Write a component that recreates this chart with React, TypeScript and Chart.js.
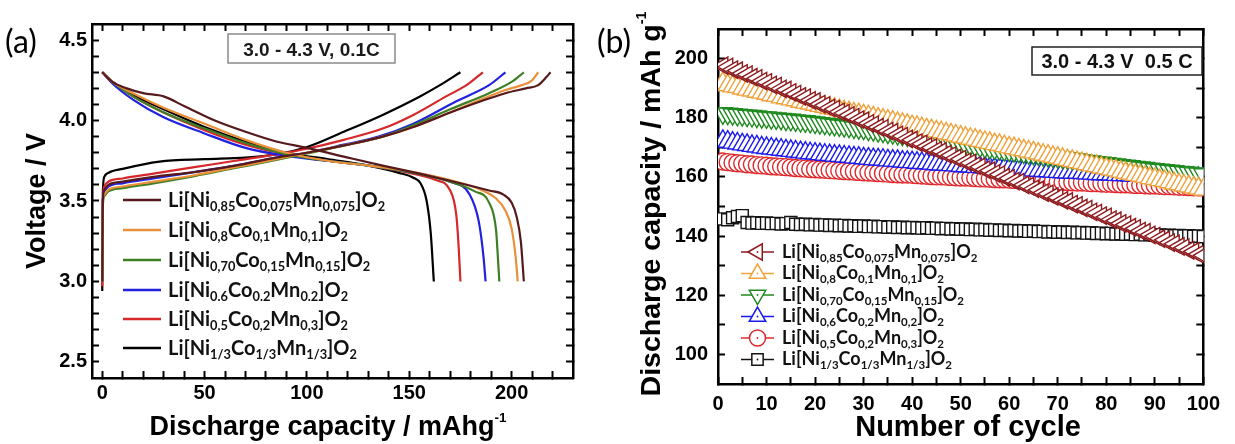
import React, { useEffect, useRef } from 'react';
import { Chart, registerables } from 'chart.js';
Chart.register(...registerables);

const BOLD = "'Liberation Sans', Arial, Helvetica, sans-serif";
const LEGF = "Lato, 'Liberation Sans', sans-serif";

// ---------------- Panel (a): voltage profiles ----------------
const labelsA = [
  'Li[Ni_{0,85}Co_{0,075}Mn_{0,075}]O_{2}',
  'Li[Ni_{0,8}Co_{0,1}Mn_{0,1}]O_{2}',
  'Li[Ni_{0,70}Co_{0,15}Mn_{0,15}]O_{2}',
  'Li[Ni_{0.6}Co_{0.2}Mn_{0.2}]O_{2}',
  'Li[Ni_{0,5}Co_{0,2}Mn_{0,3}]O_{2}',
  'Li[Ni_{1/3}Co_{1/3}Mn_{1/3}]O_{2}',
];
const colorsA = ['#561a1d', '#e8913a', '#3e7f25', '#2121e0', '#d6272b', '#000000'];
const xTicksA = [0, 50, 100, 150, 200];
const xMinorA = [10, 20, 30, 40, 60, 70, 80, 90, 110, 120, 130, 140, 160, 170, 180, 190, 210, 220];
const yTicksA = [2.5, 3.0, 3.5, 4.0, 4.5];
const yMinorA = [2.6, 2.7, 2.8, 2.9, 3.1, 3.2, 3.3, 3.4, 3.6, 3.7, 3.8, 3.9, 4.1, 4.2, 4.3, 4.4];

const ni85ChargeCap = [0, 0.3, 1, 3, 10, 25, 45, 65, 85, 100, 120, 137, 152, 170, 185, 197, 207, 213, 217, 219];
const ni85ChargeV = [3.0, 3.5, 3.57, 3.6, 3.62, 3.65, 3.68, 3.72, 3.77, 3.8, 3.85, 3.9, 3.96, 4.05, 4.12, 4.17, 4.2, 4.22, 4.27, 4.3];
const ni85DisCap = [0, 5, 12, 20, 30, 40, 55, 70, 85, 100, 120, 137, 155, 175, 189, 196, 200, 202.5, 204.5, 206];
const ni85DisV = [4.3, 4.24, 4.2, 4.17, 4.15, 4.09, 4.0, 3.93, 3.87, 3.83, 3.77, 3.72, 3.67, 3.61, 3.565, 3.54, 3.49, 3.4, 3.25, 3.0];

const ni80ChargeCap = [0, 0.3, 1, 3, 10, 25, 45, 65, 85, 100, 120, 137, 152, 170, 185, 197, 205, 210, 213];
const ni80ChargeV = [3.0, 3.48, 3.54, 3.57, 3.59, 3.62, 3.66, 3.71, 3.76, 3.8, 3.85, 3.9, 3.96, 4.05, 4.13, 4.19, 4.22, 4.25, 4.3];
const ni80DisCap = [0, 5, 15, 30, 50, 70, 90, 110, 130, 150, 170, 185, 192, 197, 200, 202, 203];
const ni80DisV = [4.3, 4.24, 4.17, 4.08, 3.98, 3.88, 3.8, 3.75, 3.72, 3.685, 3.63, 3.57, 3.52, 3.44, 3.33, 3.15, 3.0];

const ni70ChargeCap = [0, 0.3, 1, 3, 10, 25, 45, 65, 85, 100, 120, 137, 152, 170, 189, 200, 206];
const ni70ChargeV = [3.0, 3.47, 3.53, 3.56, 3.58, 3.61, 3.655, 3.705, 3.755, 3.795, 3.85, 3.9, 3.97, 4.07, 4.17, 4.24, 4.3];
const ni70DisCap = [0, 5, 15, 30, 50, 70, 90, 110, 130, 150, 170, 182, 189, 192.4, 193.3, 194];
const ni70DisV = [4.3, 4.24, 4.15, 4.05, 3.95, 3.86, 3.79, 3.75, 3.72, 3.68, 3.62, 3.56, 3.49, 3.32, 3.15, 3.0];

const ni60ChargeCap = [0, 0.3, 1, 3, 10, 25, 45, 65, 85, 100, 118, 135, 152, 173, 189, 197];
const ni60ChargeV = [3.0, 3.5, 3.56, 3.59, 3.61, 3.64, 3.68, 3.72, 3.77, 3.8, 3.85, 3.9, 3.98, 4.12, 4.22, 4.3];
const ni60DisCap = [0, 5, 15, 30, 50, 70, 90, 110, 130, 150, 170, 179.5, 184, 186.3, 187.3];
const ni60DisV = [4.3, 4.23, 4.13, 4.02, 3.92, 3.83, 3.78, 3.75, 3.72, 3.68, 3.62, 3.54, 3.37, 3.15, 3.0];

const ni50ChargeCap = [0, 0.3, 1, 3, 10, 25, 45, 65, 85, 100, 118, 137, 152, 168, 178, 186];
const ni50ChargeV = [2.97, 3.5, 3.59, 3.62, 3.64, 3.67, 3.71, 3.75, 3.79, 3.825, 3.88, 3.95, 4.035, 4.15, 4.22, 4.3];
const ni50DisCap = [0, 5, 15, 30, 50, 70, 90, 110, 130, 150, 163, 169.8, 173, 174.2, 175];
const ni50DisV = [4.3, 4.24, 4.15, 4.05, 3.94, 3.85, 3.79, 3.75, 3.72, 3.675, 3.63, 3.57, 3.41, 3.2, 3.0];

const ni33ChargeCap = [0, 0.3, 1, 3, 10, 28, 50, 70, 85, 100, 118, 137, 155, 165, 175];
const ni33ChargeV = [2.94, 3.55, 3.65, 3.675, 3.7, 3.745, 3.76, 3.77, 3.79, 3.835, 3.93, 4.035, 4.148, 4.22, 4.3];
const ni33DisCap = [0, 5, 15, 30, 50, 70, 90, 110, 130, 145, 152, 155.5, 158.5, 160.5, 162];
const ni33DisV = [4.3, 4.24, 4.16, 4.07, 3.96, 3.87, 3.8, 3.76, 3.72, 3.675, 3.645, 3.61, 3.5, 3.3, 3.0];

// ---------------- Panel (b): cycling ----------------
const labelsB = [
  'Li[Ni_{0,85}Co_{0,075}Mn_{0,075}]O_{2}',
  'Li[Ni_{0,8}Co_{0,1}Mn_{0,1}]O_{2}',
  'Li[Ni_{0,70}Co_{0,15}Mn_{0,15}]O_{2}',
  'Li[Ni_{0,6}Co_{0,2}Mn_{0,2}]O_{2}',
  'Li[Ni_{0,5}Co_{0,2}Mn_{0,3}]O_{2}',
  'Li[Ni_{1/3}Co_{1/3}Mn_{1/3}]O_{2}',
];
const colorsB = ['#8e1b1e', '#f0a23c', '#1f8a1f', '#1b1bef', '#e0282c', '#141414'];
const markersB = ['triangle', 'triangle', 'triangle', 'triangle', 'circle', 'rect'];
const rotationsB = [-90, 0, 180, 0, 0, 0];
const radiiB = [10, 11, 11, 11, 8.5, 8.5];
const xTicksB = [0, 10, 20, 30, 40, 50, 60, 70, 80, 90, 100];
const xMinorB = [5, 15, 25, 35, 45, 55, 65, 75, 85, 95];
const yTicksB = [100, 120, 140, 160, 180, 200];
const yMinorB = [110, 130, 150, 170, 190];

const cycles = Array.from({ length: 100 }, (_, i) => i + 1);

const capNi85 = [
  197.6, 197.2, 196.3, 195.9, 195.0, 194.6, 193.7, 193.3, 192.4, 192.0,
  191.1, 190.7, 189.8, 189.4, 188.6, 188.0, 187.2, 186.8, 185.9, 185.5,
  184.6, 184.2, 183.3, 182.9, 182.0, 181.6, 180.8, 180.2, 179.4, 179.0,
  178.1, 177.7, 176.8, 176.4, 175.5, 175.1, 174.2, 173.8, 172.9, 172.5,
  171.6, 171.2, 170.3, 169.9, 169.0, 168.6, 167.7, 167.3, 166.4, 166.0,
  165.1, 164.7, 163.8, 163.4, 162.5, 162.1, 161.2, 160.8, 159.9, 159.5,
  158.6, 158.2, 157.3, 156.9, 156.0, 155.6, 154.7, 154.3, 153.4, 153.0,
  152.1, 151.7, 150.8, 150.4, 149.5, 149.1, 148.2, 147.8, 146.9, 146.5,
  145.6, 145.2, 144.3, 143.9, 143.0, 142.6, 141.7, 141.3, 140.4, 140.0,
  139.1, 138.7, 137.8, 137.4, 136.5, 136.1, 135.2, 134.8, 133.9, 133.5,
];
const capNi80 = [
  191.8, 191.0, 190.6, 190.4, 189.9, 189.5, 189.2, 188.8, 188.5, 188.1,
  187.6, 187.4, 186.9, 186.6, 186.2, 185.9, 185.4, 185.1, 184.8, 184.4,
  184.0, 183.7, 183.3, 183.0, 182.6, 182.2, 181.9, 181.5, 181.2, 180.8,
  180.5, 180.1, 179.7, 179.4, 179.0, 178.7, 178.3, 177.9, 177.6, 177.2,
  176.9, 176.5, 176.1, 175.8, 175.4, 175.1, 174.7, 174.4, 174.0, 173.6,
  173.3, 172.9, 172.6, 172.2, 171.8, 171.5, 171.1, 170.8, 170.4, 170.0,
  169.7, 169.3, 169.0, 168.6, 168.3, 167.9, 167.5, 167.2, 166.8, 166.5,
  166.1, 165.7, 165.4, 165.0, 164.7, 164.3, 163.9, 163.6, 163.2, 162.9,
  162.5, 162.2, 161.8, 161.4, 161.1, 160.7, 160.4, 160.0, 159.6, 159.3,
  158.9, 158.6, 158.2, 157.8, 157.5, 157.1, 156.8, 156.4, 156.1, 155.7,
];
const capNi70 = [
  181.5, 181.4, 181.2, 181.0, 180.9, 180.7, 180.6, 180.4, 180.2, 180.1,
  179.9, 179.8, 179.6, 179.4, 179.3, 179.1, 178.9, 178.8, 178.6, 178.4,
  178.2, 178.0, 177.8, 177.6, 177.4, 177.2, 177.0, 176.7, 176.5, 176.3,
  176.0, 175.8, 175.5, 175.3, 175.0, 174.8, 174.5, 174.3, 174.0, 173.8,
  173.5, 173.3, 173.0, 172.8, 172.5, 172.3, 172.0, 171.8, 171.5, 171.3,
  171.0, 170.8, 170.5, 170.3, 170.1, 169.8, 169.6, 169.4, 169.1, 168.9,
  168.7, 168.5, 168.2, 168.0, 167.8, 167.6, 167.4, 167.1, 166.9, 166.7,
  166.5, 166.3, 166.1, 165.9, 165.6, 165.4, 165.2, 165.0, 164.8, 164.6,
  164.4, 164.2, 164.0, 163.8, 163.6, 163.4, 163.2, 163.0, 162.8, 162.6,
  162.4, 162.3, 162.1, 161.9, 161.7, 161.6, 161.4, 161.2, 161.1, 160.9,
];
const capNi60 = [
  172.2, 171.9, 171.6, 171.3, 171.0, 170.8, 170.5, 170.3, 170.0, 169.8,
  169.6, 169.4, 169.2, 169.0, 168.8, 168.6, 168.4, 168.2, 168.0, 167.9,
  167.7, 167.5, 167.4, 167.2, 167.1, 166.9, 166.8, 166.6, 166.5, 166.3,
  166.2, 166.0, 165.9, 165.8, 165.6, 165.5, 165.4, 165.2, 165.1, 165.0,
  164.8, 164.7, 164.6, 164.5, 164.3, 164.2, 164.1, 164.0, 163.9, 163.7,
  163.6, 163.5, 163.4, 163.3, 163.2, 163.1, 163.0, 162.9, 162.8, 162.7,
  162.6, 162.5, 162.4, 162.3, 162.2, 162.1, 162.0, 161.9, 161.8, 161.7,
  161.6, 161.5, 161.4, 161.4, 161.3, 161.2, 161.1, 161.0, 160.9, 160.9,
  160.8, 160.7, 160.6, 160.6, 160.5, 160.4, 160.4, 160.3, 160.2, 160.2,
  160.1, 160.0, 160.0, 159.9, 159.9, 159.8, 159.7, 159.7, 159.6, 159.6,
];
const capNi50 = [
  165.2, 165.0, 164.8, 164.6, 164.5, 164.3, 164.2, 164.0, 163.9, 163.8,
  163.6, 163.5, 163.4, 163.3, 163.2, 163.0, 162.9, 162.8, 162.7, 162.6,
  162.5, 162.4, 162.3, 162.2, 162.1, 162.0, 161.9, 161.8, 161.7, 161.6,
  161.5, 161.4, 161.3, 161.2, 161.1, 161.0, 160.9, 160.8, 160.8, 160.7,
  160.6, 160.5, 160.4, 160.3, 160.2, 160.2, 160.1, 160.0, 159.9, 159.8,
  159.8, 159.7, 159.6, 159.5, 159.5, 159.4, 159.3, 159.2, 159.2, 159.1,
  159.0, 158.9, 158.9, 158.8, 158.7, 158.7, 158.6, 158.5, 158.5, 158.4,
  158.3, 158.3, 158.2, 158.1, 158.1, 158.0, 157.9, 157.9, 157.8, 157.7,
  157.7, 157.6, 157.5, 157.5, 157.4, 157.3, 157.3, 157.2, 157.1, 157.1,
  157.0, 156.9, 156.9, 156.8, 156.7, 156.7, 156.6, 156.5, 156.5, 156.4,
];
const capNi33 = [
  145.8, 145.5, 146.2, 146.6, 146.9, 144.6, 144.4, 144.5, 144.3, 144.4,
  144.2, 144.3, 144.1, 144.2, 144.6, 144.0, 143.9, 144.0, 143.8, 143.9,
  143.7, 143.8, 143.6, 143.7, 143.5, 143.6, 143.4, 143.5, 143.3, 143.4,
  143.2, 143.3, 143.1, 143.2, 143.0, 143.1, 142.9, 143.0, 142.8, 142.9,
  142.8, 142.7, 142.8, 142.6, 142.7, 142.5, 142.6, 142.4, 142.5, 142.3,
  142.4, 142.2, 142.3, 142.1, 142.2, 142.0, 142.1, 141.9, 142.0, 141.8,
  141.9, 141.7, 141.8, 141.6, 141.7, 141.5, 141.6, 141.4, 141.5, 141.3,
  141.4, 141.2, 141.3, 141.1, 141.2, 141.0, 141.1, 140.9, 141.0, 140.8,
  140.9, 140.7, 140.8, 140.6, 140.7, 140.5, 140.6, 140.4, 140.5, 140.3,
  140.4, 140.2, 140.3, 140.1, 140.2, 140.0, 140.1, 139.9, 140.0, 139.8,
];

// ---------------- helpers ----------------
type Seg = { t: string; k: string };
function parseRich(s: string): Seg[] {
  const out: Seg[] = [];
  const re = /_\{([^}]*)\}|\^\{([^}]*)\}|([^_^]+)/g;
  let m: RegExpExecArray | null;
  while ((m = re.exec(s))) {
    if (m[1] !== undefined) out.push({ t: m[1], k: 'sub' });
    else if (m[2] !== undefined) out.push({ t: m[2], k: 'sup' });
    else out.push({ t: m[3], k: 'n' });
  }
  return out;
}

function drawRich(ctx: CanvasRenderingContext2D, s: string, x: number, y: number, size: number,
  family: string, weight: string, align: string, color: string, ratio = 0.62) {
  const segs = parseRich(s);
  const small = size * ratio;
  const font = (sz: number) => `${weight} ${sz}px ${family}`;
  let total = 0;
  const widths = segs.map((sg) => {
    ctx.font = font(sg.k === 'n' ? size : small);
    const w = ctx.measureText(sg.t).width;
    total += w;
    return w;
  });
  let cx = align === 'center' ? x - total / 2 : align === 'right' ? x - total : x;
  ctx.fillStyle = color;
  ctx.textBaseline = 'alphabetic';
  ctx.textAlign = 'left';
  segs.forEach((sg, i) => {
    ctx.font = font(sg.k === 'n' ? size : small);
    const dy = sg.k === 'sub' ? size * 0.24 : sg.k === 'sup' ? -size * 0.48 : 0;
    ctx.fillText(sg.t, cx, y + dy);
    cx += widths[i];
  });
  return total;
}

function drawMarker(ctx: CanvasRenderingContext2D, style: string, x: number, y: number, r: number, rot: number, color: string) {
  ctx.save();
  ctx.beginPath();
  if (style === 'triangle') {
    let rad = (rot * Math.PI) / 180;
    ctx.moveTo(x + Math.sin(rad) * r, y - Math.cos(rad) * r);
    rad += (2 * Math.PI) / 3;
    ctx.lineTo(x + Math.sin(rad) * r, y - Math.cos(rad) * r);
    rad += (2 * Math.PI) / 3;
    ctx.lineTo(x + Math.sin(rad) * r, y - Math.cos(rad) * r);
    ctx.closePath();
  } else if (style === 'circle') {
    ctx.arc(x, y, r, 0, Math.PI * 2);
  } else {
    const s = r * Math.SQRT1_2;
    ctx.rect(x - s, y - s, 2 * s, 2 * s);
  }
  ctx.fillStyle = '#fff';
  ctx.fill();
  ctx.strokeStyle = color;
  ctx.lineWidth = 1.5;
  ctx.stroke();
  ctx.beginPath();
  ctx.arc(x, y, 0.9, 0, Math.PI * 2);
  ctx.fillStyle = color;
  ctx.fill();
  ctx.restore();
}

function safe(chart: any, fn: () => void) {
  try {
    fn();
  } catch (e: any) {
    const ctx: CanvasRenderingContext2D = chart.ctx;
    ctx.save();
    ctx.fillStyle = '#f00';
    ctx.font = '12px sans-serif';
    ctx.fillText('ERR ' + String(e && e.message), 100, 20);
    ctx.restore();
  }
}

const tickFont = { family: BOLD, size: 20, weight: 'bold' };

// native axis builder: border + inward ticks (major + minor positions)
function axis(opts: {
  pos: string; min: number; max: number; majors: number[]; minors: number[];
  size: number; labels: boolean; padding: number; fmt: (v: number) => string;
}) {
  const all = opts.majors.concat(opts.minors).sort((p, q) => p - q);
  const horizontal = opts.pos === 'top' || opts.pos === 'bottom';
  return {
    type: 'linear',
    display: true,
    position: opts.pos,
    min: opts.min,
    max: opts.max,
    afterBuildTicks: (s: any) => { s.ticks = all.map((v) => ({ value: v })); },
    afterFit: (s: any) => {
      if (horizontal) s.height = opts.size;
      else s.width = opts.size;
    },
    grid: {
      display: true, drawOnChartArea: false, drawTicks: true, tickLength: -7,
      tickWidth: 2, tickColor: '#000', color: '#000',
    },
    border: { display: true, width: 2.5, color: '#000' },
    ticks: {
      display: opts.labels,
      font: tickFont,
      color: '#000',
      padding: opts.padding,
      maxRotation: 0,
      minRotation: 0,
      autoSkip: false,
      callback: (v: any) => (opts.majors.indexOf(Number(v)) >= 0 ? opts.fmt(Number(v)) : ''),
    },
  };
}

function buildA(canvas: HTMLCanvasElement) {
  const series = [
    [ni85ChargeCap, ni85ChargeV, ni85DisCap, ni85DisV],
    [ni80ChargeCap, ni80ChargeV, ni80DisCap, ni80DisV],
    [ni70ChargeCap, ni70ChargeV, ni70DisCap, ni70DisV],
    [ni60ChargeCap, ni60ChargeV, ni60DisCap, ni60DisV],
    [ni50ChargeCap, ni50ChargeV, ni50DisCap, ni50DisV],
    [ni33ChargeCap, ni33ChargeV, ni33DisCap, ni33DisV],
  ];
  const datasets: any[] = [];
  series.forEach((s, i) => {
    const common = {
      borderColor: colorsA[i], borderWidth: 2.2, pointRadius: 0, fill: false,
      cubicInterpolationMode: 'monotone', xAxisID: 'x', yAxisID: 'y',
    };
    datasets.push({ ...common, label: 'charge ' + i, data: s[0].map((c, j) => ({ x: c, y: s[1][j] })) });
    datasets.push({ ...common, label: 'discharge ' + i, data: s[2].map((c, j) => ({ x: c, y: s[3][j] })) });
  });
  const decor = {
    id: 'decorA',
    afterDraw(chart: any) {
      safe(chart, () => {
        const ctx: CanvasRenderingContext2D = chart.ctx;
        ctx.save();
        ctx.font = `32px ${LEGF}`;
        ctx.fillStyle = '#000';
        ctx.textBaseline = 'alphabetic';
        ctx.textAlign = 'left';
        ctx.fillText('(a)', 5, 53);
        drawRich(ctx, 'Discharge capacity / mAhg^{-1}', 328, 435, 27, BOLD, 'bold', 'center', '#000', 0.5);
        ctx.save();
        ctx.translate(45, 201);
        ctx.rotate(-Math.PI / 2);
        drawRich(ctx, 'Voltage / V', 0, 0, 27, BOLD, 'bold', 'center', '#000');
        ctx.restore();
        ctx.fillStyle = '#fff';
        ctx.fillRect(228, 34, 167, 29);
        ctx.strokeStyle = '#8a8a8a';
        ctx.lineWidth = 1.5;
        ctx.strokeRect(228, 34, 167, 29);
        drawRich(ctx, '3.0 - 4.3 V, 0.1C', 311.5, 55.5, 19, BOLD, 'bold', 'center', '#1a1a1a');
        const rows = [200, 230, 260, 290, 319, 348];
        rows.forEach((ry, i) => {
          ctx.beginPath();
          ctx.strokeStyle = colorsA[i];
          ctx.lineWidth = 2.5;
          ctx.moveTo(123, ry);
          ctx.lineTo(161, ry);
          ctx.stroke();
          drawRich(ctx, labelsA[i], 168, ry + 6.5, 20, LEGF, 'bold', 'left', '#111', 0.64);
        });
        ctx.restore();
      });
    },
  };
  const fmtInt = (v: number) => String(v);
  const fmt1 = (v: number) => v.toFixed(1);
  return new Chart(canvas, {
    type: 'line',
    data: { datasets },
    options: {
      responsive: false,
      animation: false,
      devicePixelRatio: 1,
      events: [],
      layout: { padding: { left: 0, right: 17, top: 24, bottom: 0 } },
      plugins: { legend: { display: false }, tooltip: { enabled: false } },
      scales: {
        x: axis({ pos: 'bottom', min: -5, max: 230, majors: xTicksA, minors: xMinorA, size: 66, labels: true, padding: 10, fmt: fmtInt }),
        y: axis({ pos: 'left', min: 2.4, max: 4.6, majors: yTicksA, minors: yMinorA, size: 92, labels: true, padding: 12, fmt: fmt1 }),
        x2: axis({ pos: 'top', min: -5, max: 230, majors: xTicksA, minors: xMinorA, size: 0, labels: false, padding: 0, fmt: fmtInt }),
        y2: axis({ pos: 'right', min: 2.4, max: 4.6, majors: yTicksA, minors: yMinorA, size: 0, labels: false, padding: 0, fmt: fmt1 }),
      },
    } as any,
    plugins: [decor],
  });
}

// canvas B starts at page x = 590
function buildB(canvas: HTMLCanvasElement) {
  const values = [capNi85, capNi80, capNi70, capNi60, capNi50, capNi33];
  const datasets = values.map((vals, i) => ({
    label: 'series ' + i,
    data: vals.map((v, j) => ({ x: cycles[j], y: v })),
    xAxisID: 'x',
    yAxisID: 'y',
    borderColor: colorsB[i],
    borderWidth: 1.5,
    pointStyle: markersB[i],
    pointRotation: rotationsB[i],
    pointRadius: radiiB[i],
    pointBorderWidth: 1.4,
    pointBorderColor: colorsB[i],
    pointBackgroundColor: '#ffffff',
    fill: false,
    tension: 0,
  }));
  const decor = {
    id: 'decorB',
    afterDraw(chart: any) {
      safe(chart, () => {
        const ctx: CanvasRenderingContext2D = chart.ctx;
        ctx.save();
        ctx.font = `32px ${LEGF}`;
        ctx.fillStyle = '#000';
        ctx.textBaseline = 'alphabetic';
        ctx.textAlign = 'left';
        ctx.fillText('(b)', 7, 53);
        drawRich(ctx, 'Number of cycle', 378, 436, 29, BOLD, 'bold', 'center', '#000');
        ctx.save();
        ctx.translate(70, 204);
        ctx.rotate(-Math.PI / 2);
        drawRich(ctx, 'Discharge capacity / mAh g^{-1}', 0, 0, 28.5, BOLD, 'bold', 'center', '#000', 0.5);
        ctx.restore();
        ctx.fillStyle = '#fff';
        ctx.fillRect(442, 47, 170, 28);
        ctx.strokeStyle = '#222';
        ctx.lineWidth = 1.5;
        ctx.strokeRect(442, 47, 170, 28);
        drawRich(ctx, '3.0 - 4.3 V  0.5 C', 527, 68, 20, BOLD, 'bold', 'center', '#111');
        const rows = [252, 273.5, 295, 316.5, 338, 359.5];
        rows.forEach((ry, i) => {
          ctx.beginPath();
          ctx.strokeStyle = colorsB[i];
          ctx.lineWidth = 1.5;
          ctx.moveTo(151, ry);
          ctx.lineTo(184, ry);
          ctx.stroke();
          drawMarker(ctx, markersB[i], 167.5, ry, i < 4 ? 9.5 : 8, rotationsB[i], colorsB[i]);
          drawRich(ctx, labelsB[i], 192, ry + 5.5, 18, LEGF, 'bold', 'left', '#111', 0.64);
        });
        ctx.restore();
      });
    },
  };
  const fmtInt = (v: number) => String(v);
  return new Chart(canvas, {
    type: 'line',
    data: { datasets },
    options: {
      responsive: false,
      animation: false,
      devicePixelRatio: 1,
      events: [],
      layout: { padding: { left: 0, right: 23, top: 23, bottom: 0 } },
      plugins: { legend: { display: false }, tooltip: { enabled: false } },
      scales: {
        x: axis({ pos: 'bottom', min: 0, max: 100, majors: xTicksB, minors: xMinorB, size: 60, labels: true, padding: 15, fmt: fmtInt }),
        y: axis({ pos: 'left', min: 90, max: 210, majors: yTicksB, minors: yMinorB, size: 128, labels: true, padding: 17, fmt: fmtInt }),
        x2: axis({ pos: 'top', min: 0, max: 100, majors: xTicksB, minors: xMinorB, size: 0, labels: false, padding: 0, fmt: fmtInt }),
        y2: axis({ pos: 'right', min: 90, max: 210, majors: yTicksB, minors: yMinorB, size: 0, labels: false, padding: 0, fmt: fmtInt }),
      },
    } as any,
    plugins: [decor],
  });
}

export default function App() {
  const refA = useRef<HTMLCanvasElement>(null);
  const refB = useRef<HTMLCanvasElement>(null);
  useEffect(() => {
    const ca = buildA(refA.current!);
    const cb = buildB(refB.current!);
    return () => {
      ca.destroy();
      cb.destroy();
    };
  }, []);
  return (
    <div style={{ position: 'absolute', left: 0, top: 0, width: 1235, height: 444, background: '#fff', overflow: 'hidden' }}>
      <canvas ref={refA} width={590} height={444} style={{ position: 'absolute', left: 0, top: 0, width: 590, height: 444 }} />
      <canvas ref={refB} width={645} height={444} style={{ position: 'absolute', left: 590, top: 0, width: 645, height: 444 }} />
    </div>
  );
}
